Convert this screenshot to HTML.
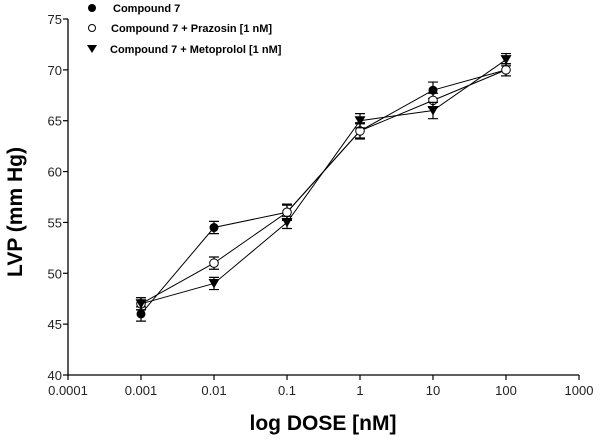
<!DOCTYPE html>
<html><head><meta charset="utf-8"><style>
body{margin:0;background:#fff;}
svg{display:block;font-family:"Liberation Sans",Arial,sans-serif;}
</style></head><body>
<svg id="chart" width="600" height="443" viewBox="0 0 600 443">
<g id="axes"></g>
<g id="plot"></g>
<text x="22" y="212" transform="rotate(-90 22 212)" text-anchor="middle" font-size="21" font-weight="bold">LVP (mm Hg)</text>
<text x="323" y="430" text-anchor="middle" font-size="21" font-weight="bold">log DOSE [nM]</text>
<g>
<g><circle cx="92" cy="8" r="4" fill="#000"/><text x="113" y="12" font-size="11" font-weight="bold">Compound 7</text></g>
<g><circle cx="92" cy="28" r="3.5" fill="#fff" stroke="#000" stroke-width="1"/><text x="111" y="32" font-size="11" font-weight="bold">Compound 7 + Prazosin [1 nM]</text></g>
<g><path d="M87,45 L97,45 L92,53 Z" fill="#000"/><text x="110" y="53" font-size="11" font-weight="bold">Compound 7 + Metoprolol [1 nM]</text></g>
</g>
</svg>
<script>
const doses = [0.001, 0.01, 0.1, 1, 10, 100];
const xTicks = [0.0001, 0.001, 0.01, 0.1, 1, 10, 100, 1000];
const xTickLabels = ["0.0001","0.001","0.01","0.1","1","10","100","1000"];
const yTicks = [40,45,50,55,60,65,70,75];
const compound7 = [46, 54.5, 56, 64, 68, 70];
const compound7Err = [0.7, 0.6, 0.7, 0.7, 0.8, 0.6];
const prazosin = [47, 51, 56, 64, 67, 70];
const prazosinErr = [0.6, 0.6, 0.8, 0.8, 0.7, 0.6];
const metoprolol = [47, 49, 55, 65, 66, 71];
const metoprololErr = [0.6, 0.6, 0.6, 0.7, 0.8, 0.6];

const X0=68, X1=579, Y0=375, Y1=19;
const xs = v => X0 + (Math.log10(v) + 4) / 7 * (X1 - X0);
const ys = v => Y0 - (v - 40) / 35 * (Y0 - Y1);
const NS="http://www.w3.org/2000/svg";
function mk(tag, attrs, parent){const e=document.createElementNS(NS,tag);for(const k in attrs)e.setAttribute(k,attrs[k]);parent.appendChild(e);return e;}
const axes=document.getElementById('axes'), plot=document.getElementById('plot');
let a=mk('line',{x1:X0,y1:Y1,x2:X0,y2:Y0,stroke:'#000','stroke-width':1.3},axes);


a=mk('line',{x1:X0,y1:Y0,x2:X1,y2:Y0,stroke:'#000','stroke-width':1.3},axes);


yTicks.forEach(t=>{
  const y=ys(t);
  mk('line',{x1:X0-5,y1:y,x2:X0,y2:y,stroke:'#000','stroke-width':1.2},axes);
  const tx=mk('text',{x:X0-6,y:y+5,'text-anchor':'end','font-size':13,fill:'#222'},axes);
  tx.textContent=t;
  
  
});
xTicks.forEach((t,i)=>{
  const x=xs(t);
  mk('line',{x1:x,y1:Y0,x2:x,y2:Y0+5,stroke:'#000','stroke-width':1.2},axes);
  const tx=mk('text',{x:x,y:Y0+20,'text-anchor':'middle','font-size':13,fill:'#222'},axes);
  tx.textContent=xTickLabels[i];
  
  
});
function series(vals, errs, kind, name){
  const g=mk('g',{},plot);
  
  
  mk('polyline',{points:vals.map((v,i)=>xs(doses[i])+','+ys(v)).join(' '),fill:'none',stroke:'#000','stroke-width':1},g);
  vals.forEach((v,i)=>{
    const x=xs(doses[i]), y=ys(v), e=errs[i]*(Y0-Y1)/35;
    mk('path',{d:`M${x},${y-e}V${y+e}M${x-5},${y-e}H${x+5}M${x-5},${y+e}H${x+5}`,stroke:'#000','stroke-width':1.2,fill:'none'},g);
    let m;
    if(kind==='filled') m=mk('circle',{cx:x,cy:y,r:4.5,fill:'#000'},g);
    else if(kind==='open') m=mk('circle',{cx:x,cy:y,r:4.3,fill:'#fff',stroke:'#000','stroke-width':1},g);
    else m=mk('path',{d:`M${x-5.5},${y-4.5}L${x+5.5},${y-4.5}L${x},${y+5}Z`,fill:'#000'},g);
    
    
  });
}
series(compound7, compound7Err, 'filled', 'series-compound7');
series(prazosin, prazosinErr, 'open', 'series-prazosin');
series(metoprolol, metoprololErr, 'tri', 'series-metoprolol');
</script>
</body></html>
